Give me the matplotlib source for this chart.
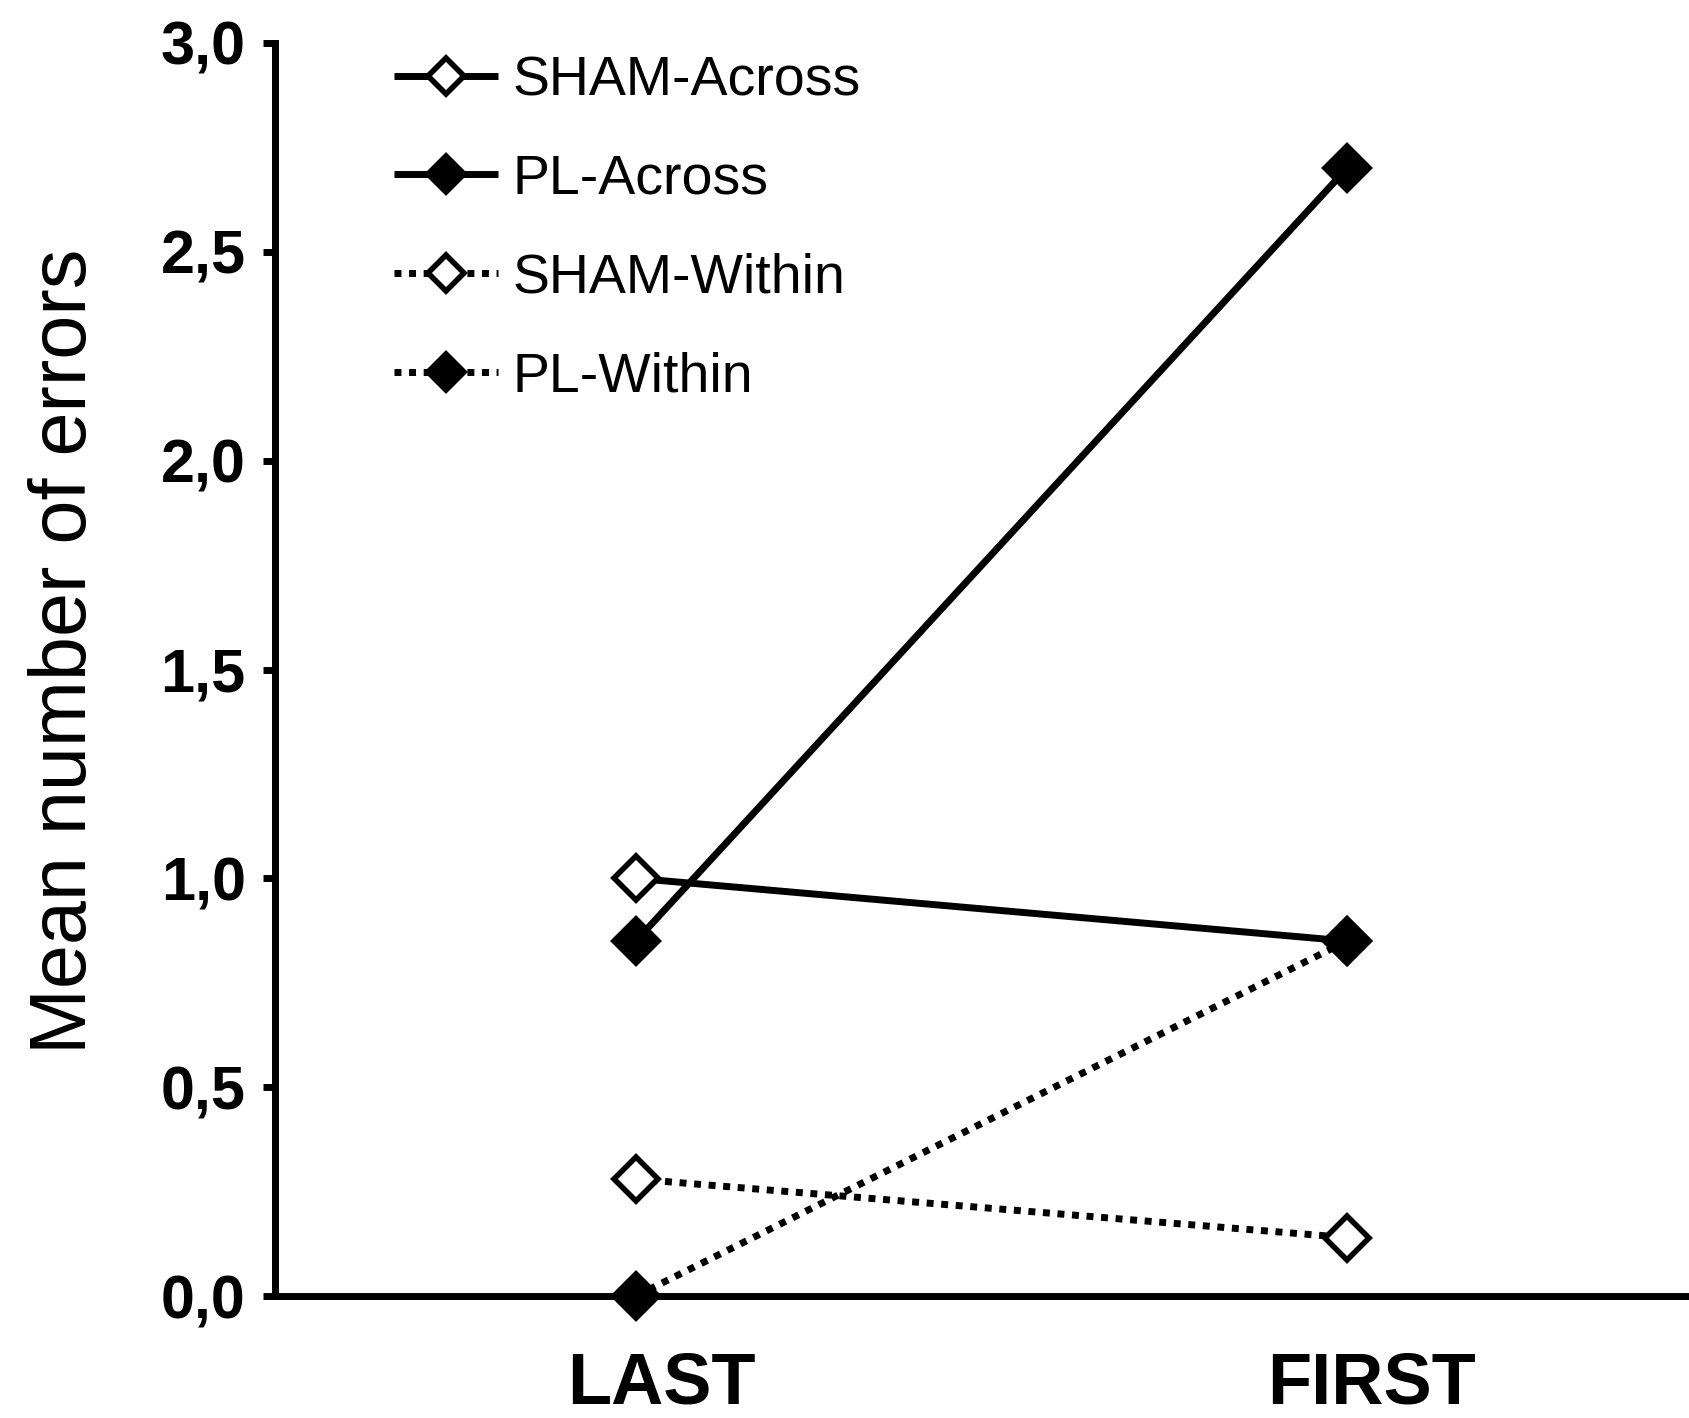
import matplotlib.pyplot as plt
import matplotlib.transforms as mtransforms

# data
groups = ['LAST', 'FIRST']
sham_across = [1.0, 0.85]
pl_across = [0.85, 2.7]
sham_within = [0.28, 0.14]
pl_within = [0.0, 0.85]
yticks = [0.0, 0.5, 1.0, 1.5, 2.0, 2.5, 3.0]

plt.rcParams['font.family'] = ['Liberation Sans', 'DejaVu Sans']

fig = plt.figure(figsize=(16.9, 14.18), dpi=100)
ax = fig.add_axes([0.1627, 0.0860, 0.8373, 0.8837])

x = list(range(len(groups)))
lw = 5
dots = (0, (1, 1.1))
common = dict(color='black', lw=lw, marker='D', ms=22, mew=4,
              mec='black', clip_on=False, solid_capstyle='butt',
              dash_capstyle='butt')

ax.plot(x, sham_across, ls='-', mfc='white', label='SHAM-Across', **common)
ax.plot(x, pl_across, ls='-', mfc='black', label='PL-Across', **common)
ax.plot(x, sham_within, ls=dots, mfc='white', label='SHAM-Within', **common)
ax.plot(x, pl_within, ls=dots, mfc='black', label='PL-Within', **common)

ax.set_xlim(-0.5077, 1.4824)
ax.set_ylim(0, 3.0)

ax.spines['top'].set_visible(False)
ax.spines['right'].set_visible(False)
for s in ['left', 'bottom']:
    ax.spines[s].set_linewidth(lw)

ax.set_yticks(yticks)
ax.set_yticklabels([f'{v:.1f}'.replace('.', ',') for v in yticks],
                   fontsize=44, fontweight='bold')
ax.tick_params(axis='y', direction='out', length=9, width=lw, pad=12)

ax.set_xticks(x)
ax.set_xticklabels(groups, fontsize=52, fontweight='bold')
ax.tick_params(axis='x', length=0, pad=39)
# labels sit a little right of the points
shift = mtransforms.ScaledTranslation(25 / 100, 0, fig.dpi_scale_trans)
for lab in ax.get_xticklabels():
    lab.set_transform(lab.get_transform() + shift)

ax.set_ylabel('Mean number of errors', fontsize=57)
ax.yaxis.set_label_coords(103 / 1690, 1 - 651 / 1418, transform=fig.transFigure)

ax.legend(loc='upper left', bbox_to_anchor=(394 / 1690, 1 - 55 / 1418),
          bbox_transform=fig.transFigure, frameon=False, fontsize=40,
          borderpad=0, borderaxespad=0, handlelength=1.87,
          handletextpad=0.27, labelspacing=0.84, markerscale=0.85)

plt.savefig('out.png', dpi=100)
plt.close()
